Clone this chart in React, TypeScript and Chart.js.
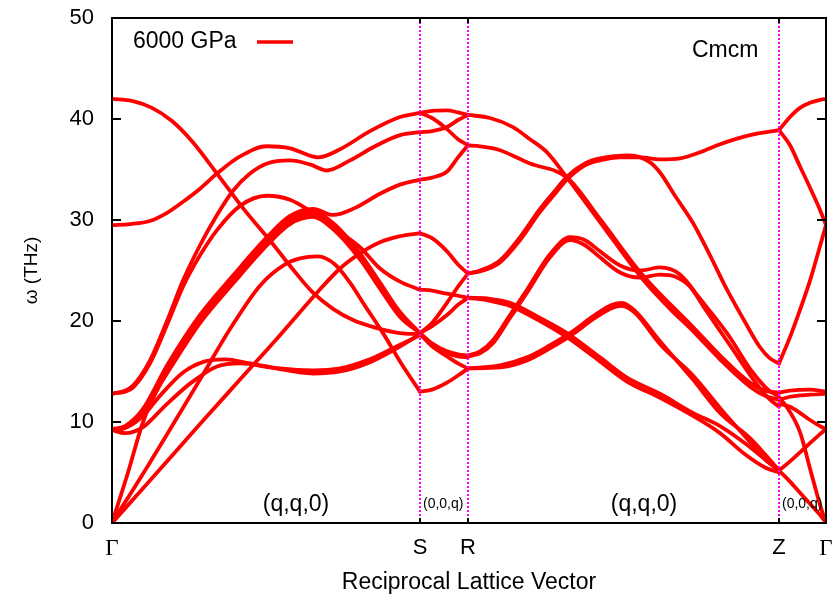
import React, { useEffect, useRef } from 'react';
import { Chart, registerables } from 'chart.js';

Chart.register(...registerables);

// ---- high-symmetry path (path coordinate k) ----
const kLabels = ['Γ', 'S', 'R', 'Z', 'Γ'];
const kPositions = [0, 3.08, 3.56, 6.67, 7.14];
const yMin = 0;
const yMax = 50;
const yStep = 10;
const seriesLabel = '6000 GPa';
const phaseLabel = 'Cmcm';
const xTitle = 'Reciprocal Lattice Vector';
const yTitle = 'ω (THz)';
const directionTexts = ['(q,q,0)', '(0,0,q)', '(q,q,0)', '(0,0,q)'];
const directionK = [1.84, 3.08, 5.32, 6.67];

// ---- phonon branches, [k, ω(THz)] per segment ----
const bandsGammaS: number[][][] = [
  [[0, 42.0], [0.2, 41.8], [0.4, 41.1], [0.6, 39.8], [0.8, 37.8], [1.05, 34.6], [1.3, 31.3], [1.61, 27.6], [1.81, 25.1], [2.01, 22.8], [2.21, 21.2], [2.41, 20.1], [2.65, 19.3], [2.88, 18.8], [3.08, 18.7]],
  [[0, 29.5], [0.18, 29.6], [0.38, 29.9], [0.55, 30.7], [0.71, 31.8], [0.88, 33.1], [1.05, 34.6], [1.28, 36.3], [1.55, 37.3], [1.78, 37.1], [2.06, 36.2], [2.28, 37.0], [2.58, 38.8], [2.88, 40.2], [3.08, 40.6]],
  [[0, 12.8], [0.13, 13.1], [0.21, 13.6], [0.38, 16.1], [0.55, 20.0], [0.71, 24.0], [0.88, 27.5], [1.05, 30.5], [1.21, 32.9], [1.38, 34.6], [1.55, 35.6], [1.78, 35.9], [1.98, 35.5], [2.15, 34.9], [2.38, 35.9], [2.63, 37.3], [2.88, 38.4], [3.08, 38.7]],
  [[0, 12.8], [0.13, 13.0], [0.21, 13.4], [0.38, 15.8], [0.55, 19.6], [0.71, 23.4], [0.88, 26.5], [1.05, 29.0], [1.28, 31.4], [1.55, 32.4], [1.78, 32.0], [2.01, 30.7], [2.28, 28.8], [2.48, 27.3], [2.68, 25.2], [2.88, 23.9], [3.08, 23.1]],
  [[0, 9.3], [0.13, 9.6], [0.31, 11.3], [0.55, 15.6], [0.88, 20.6], [1.21, 24.5], [1.55, 28.3], [1.78, 30.4], [2.01, 31.1], [2.21, 30.5], [2.43, 31.2], [2.68, 32.6], [2.88, 33.5], [3.08, 34.0]],
  [[0, 9.2], [0.13, 9.5], [0.31, 11.0], [0.55, 15.3], [0.88, 20.3], [1.21, 24.2], [1.55, 28.0], [1.78, 30.1], [2.01, 30.8], [2.21, 29.7], [2.48, 26.7], [2.68, 23.8], [2.88, 20.9], [3.08, 18.8]],
  [[0, 9.2], [0.13, 9.4], [0.31, 10.7], [0.55, 15.0], [0.88, 20.0], [1.21, 23.9], [1.55, 27.7], [1.78, 29.8], [2.01, 30.5], [2.21, 29.4], [2.48, 26.4], [2.68, 23.5], [2.88, 20.6], [3.08, 18.8]],
  [[0, 0], [0.16, 5.0], [0.31, 10.0], [0.43, 12.8], [0.55, 14.8], [0.88, 19.8], [1.21, 23.7], [1.55, 27.5], [1.78, 29.6], [2.01, 30.3], [2.21, 29.1], [2.48, 26.1], [2.68, 23.2], [2.88, 20.4], [3.08, 18.8]],
  [[0, 0], [0.38, 6.0], [0.88, 14.2], [1.18, 19.2], [1.48, 23.5], [1.73, 25.6], [1.88, 26.2], [2.06, 26.4], [2.23, 25.6], [2.38, 23.8], [2.53, 21.5], [2.71, 18.8], [2.88, 16.0], [3.08, 13.0]],
  [[0, 0], [0.38, 4.2], [0.88, 9.8], [1.28, 14.2], [1.68, 18.6], [2.05, 22.8], [2.28, 25.2], [2.48, 26.7], [2.68, 27.8], [2.88, 28.4], [3.08, 28.7]],
  [[0, 9.2], [0.13, 9.4], [0.31, 10.6], [0.48, 12.6], [0.71, 14.9], [0.93, 16.0], [1.13, 16.2], [1.38, 15.8], [1.68, 15.3], [2.01, 15.1], [2.28, 15.3], [2.55, 16.1], [2.83, 17.4], [3.08, 18.6]],
  [[0, 9.2], [0.13, 8.9], [0.31, 9.5], [0.53, 11.6], [0.78, 13.8], [1.05, 15.5], [1.28, 15.8], [1.58, 15.4], [2.01, 14.8], [2.28, 15.0], [2.55, 15.8], [2.83, 17.2], [3.08, 18.7]],
];

const bandsSR: number[][][] = [
  [[3.08, 40.6], [3.2, 40.8], [3.35, 40.85], [3.46, 40.65], [3.56, 40.4]],
  [[3.08, 40.6], [3.2, 40.1], [3.35, 39.0], [3.46, 38.0], [3.56, 37.4]],
  [[3.08, 38.7], [3.2, 38.8], [3.35, 39.2], [3.46, 39.9], [3.56, 40.4]],
  [[3.08, 34.0], [3.2, 34.2], [3.35, 34.8], [3.46, 36.2], [3.56, 37.4]],
  [[3.08, 28.7], [3.2, 28.2], [3.35, 26.9], [3.46, 25.6], [3.56, 24.7]],
  [[3.08, 23.1], [3.2, 23.0], [3.35, 22.7], [3.46, 22.5], [3.56, 22.3]],
  [[3.08, 18.8], [3.2, 19.8], [3.35, 21.8], [3.46, 23.4], [3.56, 24.7]],
  [[3.08, 18.8], [3.2, 19.5], [3.35, 20.6], [3.46, 21.6], [3.56, 22.3]],
  [[3.08, 18.8], [3.2, 17.8], [3.35, 17.0], [3.46, 16.7], [3.56, 16.6]],
  [[3.08, 18.8], [3.2, 17.6], [3.35, 16.8], [3.46, 16.5], [3.56, 16.4]],
  [[3.08, 13.0], [3.2, 13.2], [3.35, 13.9], [3.46, 14.6], [3.56, 15.3]],
  [[3.08, 18.7], [3.2, 17.5], [3.35, 16.5], [3.46, 15.8], [3.56, 15.3]],
];

const bandsRZ: number[][][] = [
  [[3.56, 40.4], [3.78, 40.1], [4.01, 39.2], [4.18, 38.0], [4.35, 36.7], [4.55, 34.2], [4.88, 29.8], [5.31, 24.1], [5.58, 21.2], [5.81, 19.0], [6.08, 16.2], [6.38, 13.5], [6.53, 12.6], [6.67, 12.2]],
  [[3.56, 37.4], [3.68, 37.3], [3.85, 37.0], [4.18, 35.6], [4.55, 34.2], [4.88, 30.1], [5.31, 24.5], [5.81, 19.4], [6.08, 16.6], [6.38, 13.9], [6.53, 13.1], [6.67, 12.9]],
  [[3.56, 24.7], [3.68, 24.9], [3.88, 25.8], [4.08, 28.0], [4.28, 30.8], [4.43, 32.6], [4.55, 34.0], [4.73, 35.4], [4.88, 35.9], [5.08, 36.2], [5.28, 36.2], [5.48, 36.0], [5.68, 36.1], [5.88, 36.7], [6.08, 37.5], [6.38, 38.4], [6.67, 38.9]],
  [[3.56, 24.7], [3.68, 25.0], [3.88, 26.0], [4.08, 28.3], [4.28, 31.1], [4.43, 32.9], [4.55, 34.3], [4.73, 35.6], [4.88, 36.1], [5.18, 36.4], [5.38, 35.7], [5.48, 34.7], [5.63, 32.4], [5.81, 29.7], [5.98, 26.5], [6.15, 23.1], [6.33, 19.9], [6.48, 17.4], [6.58, 16.3], [6.67, 15.8]],
  [[3.56, 22.3], [3.78, 22.2], [3.98, 21.8], [4.28, 20.3], [4.55, 18.8], [4.88, 16.4], [5.15, 14.4], [5.48, 12.8], [5.81, 10.9], [6.08, 9.6], [6.33, 7.9], [6.53, 6.3], [6.67, 5.2]],
  [[3.56, 22.3], [3.78, 22.0], [3.98, 21.5], [4.28, 20.0], [4.55, 18.4], [4.88, 16.0], [5.15, 14.0], [5.48, 12.4], [5.81, 10.6], [6.08, 8.9], [6.33, 6.8], [6.53, 5.5], [6.67, 5.0]],
  [[3.56, 16.6], [3.68, 17.0], [3.81, 18.1], [3.98, 20.6], [4.15, 23.1], [4.38, 26.6], [4.58, 28.3], [4.73, 28.0], [4.88, 26.9], [5.08, 25.5], [5.28, 25.0], [5.48, 25.3], [5.68, 24.6], [5.88, 22.2], [6.15, 18.8], [6.40, 15.0], [6.56, 13.2], [6.67, 12.5]],
  [[3.56, 16.5], [3.68, 16.8], [3.81, 17.8], [3.98, 20.3], [4.15, 22.8], [4.38, 26.3], [4.58, 28.0], [4.73, 27.5], [4.88, 26.3], [5.08, 24.8], [5.28, 24.3], [5.48, 24.6], [5.63, 24.4], [5.78, 23.4], [5.93, 21.2], [6.18, 17.6], [6.40, 14.4], [6.56, 12.4], [6.67, 11.5]],
  [[3.56, 15.3], [3.88, 15.6], [4.15, 16.4], [4.38, 17.6], [4.58, 18.8], [4.83, 20.6], [5.0, 21.6], [5.1, 21.8], [5.23, 21.0], [5.48, 18.0], [5.81, 14.2], [6.08, 10.9], [6.38, 8.4], [6.53, 6.8], [6.67, 5.2]],
  [[3.56, 15.3], [3.88, 15.4], [4.15, 16.1], [4.38, 17.3], [4.58, 18.5], [4.83, 20.3], [5.0, 21.3], [5.1, 21.5], [5.23, 20.8], [5.48, 17.7], [5.81, 14.6], [6.08, 11.4], [6.38, 8.0], [6.53, 6.3], [6.67, 5.2]],
];

const bandsZGamma: number[][][] = [
  [[6.67, 38.9], [6.78, 40.2], [6.88, 41.1], [6.98, 41.6], [7.08, 41.9], [7.14, 42.0]],
  [[6.67, 38.9], [6.78, 37.4], [6.88, 35.3], [6.98, 33.2], [7.08, 31.0], [7.14, 29.5]],
  [[6.67, 15.8], [6.78, 18.4], [6.88, 21.1], [6.98, 24.0], [7.08, 27.4], [7.14, 29.5]],
  [[6.67, 12.9], [6.78, 13.1], [6.98, 13.2], [7.14, 13.0]],
  [[6.67, 12.2], [6.78, 12.5], [6.98, 12.7], [7.14, 12.8]],
  [[6.67, 11.8], [6.78, 11.5], [6.88, 10.9], [6.98, 10.2], [7.08, 9.6], [7.14, 9.3]],
  [[6.67, 12.4], [6.74, 11.6], [6.88, 9.0], [6.98, 5.4], [7.08, 1.8], [7.14, 0]],
  [[6.67, 5.2], [6.78, 6.1], [6.88, 7.0], [6.98, 7.9], [7.08, 8.8], [7.14, 9.3]],
  [[6.67, 5.2], [6.78, 4.1], [6.88, 3.0], [6.98, 1.9], [7.08, 0.8], [7.14, 0]],
];

const RED = '#ff0000';
const SANS = '"Liberation Sans", Arial, sans-serif';
const SERIF = '"Liberation Serif", "Times New Roman", serif';

const decorPlugin = {
  id: 'decor',
  afterDatasetsDraw(chart: any) {
    const { ctx, chartArea: a, scales } = chart;
    const xs = scales.x;
    const ys = scales.y;
    ctx.save();
    // symmetry-point guide lines
    ctx.strokeStyle = '#ff00ff';
    ctx.lineWidth = 2;
    ctx.setLineDash([2, 2]);
    kPositions.slice(1, -1).forEach((k) => {
      const px = Math.round(xs.getPixelForValue(k));
      ctx.beginPath();
      ctx.moveTo(px, a.top);
      ctx.lineTo(px, a.bottom);
      ctx.stroke();
    });
    ctx.setLineDash([]);
    // frame
    ctx.strokeStyle = '#000';
    ctx.lineWidth = 2;
    ctx.strokeRect(a.left, a.top, a.right - a.left, a.bottom - a.top);
    // inward ticks
    ctx.beginPath();
    ys.ticks.forEach((t: any) => {
      const py = Math.round(ys.getPixelForValue(t.value));
      ctx.moveTo(a.left, py);
      ctx.lineTo(a.left + 9, py);
      ctx.moveTo(a.right, py);
      ctx.lineTo(a.right - 9, py);
    });
    kPositions.slice(1, -1).forEach((k) => {
      const px = Math.round(xs.getPixelForValue(k));
      ctx.moveTo(px, a.bottom);
      ctx.lineTo(px, a.bottom - 5);
      ctx.moveTo(px, a.top);
      ctx.lineTo(px, a.top + 5);
    });
    ctx.stroke();
    // direction notes
    ctx.fillStyle = '#000';
    ctx.textBaseline = 'middle';
    directionTexts.forEach((txt, i) => {
      const px = xs.getPixelForValue(directionK[i]);
      const small = txt === '(0,0,q)';
      ctx.font = `${small ? 14 : 23}px ${SANS}`;
      ctx.textAlign = small ? 'left' : 'center';
      ctx.fillText(txt, small ? px + 3 : px, a.bottom - (small ? 19 : 18));
    });
    // legend
    ctx.font = `23px ${SANS}`;
    ctx.textAlign = 'left';
    ctx.fillText(seriesLabel, a.left + 21, a.top + 24);
    ctx.strokeStyle = RED;
    ctx.lineWidth = 3.5;
    ctx.beginPath();
    ctx.moveTo(a.left + 145, a.top + 24);
    ctx.lineTo(a.left + 181, a.top + 24);
    ctx.stroke();
    ctx.fillText(phaseLabel, a.left + 580, a.top + 33);
    ctx.restore();
  },
};

export default function App() {
  const ref = useRef<HTMLCanvasElement>(null);
  useEffect(() => {
    document.body.style.margin = '0';
    const canvas = ref.current;
    if (!canvas) return;
    const all = [...bandsGammaS, ...bandsSR, ...bandsRZ, ...bandsZGamma];
    const datasets = all.map((band, i) => ({
      label: i === 0 ? seriesLabel : '',
      data: band.map(([x, y]) => ({ x, y })),
      borderColor: RED,
      backgroundColor: RED,
      borderWidth: 3.8,
      pointRadius: 0,
      pointHoverRadius: 0,
      fill: false,
      cubicInterpolationMode: 'monotone' as const,
      borderCapStyle: 'round' as const,
      borderJoinStyle: 'round' as const,
    }));
    const chart = new Chart(canvas, {
      type: 'line',
      data: { datasets },
      options: {
        animation: false,
        responsive: false,
        events: [],
        layout: { padding: { top: 18, right: 10, left: 0, bottom: 0 } },
        plugins: { legend: { display: false }, tooltip: { enabled: false } },
        scales: {
          x: {
            type: 'linear',
            min: kPositions[0],
            max: kPositions[kPositions.length - 1],
            grid: { display: false, drawTicks: false },
            border: { display: false },
            afterBuildTicks: (scale: any) => {
              scale.ticks = kPositions.map((v) => ({ value: v }));
            },
            afterFit: (scale: any) => {
              scale.height = 81;
              scale.paddingLeft = 0;
              scale.paddingRight = 0;
            },
            ticks: {
              autoSkip: false,
              maxRotation: 0,
              padding: 12,
              color: '#000',
              callback: (_v: any, i: number) => kLabels[i],
              font: (c: any) =>
                c.tick && c.tick.label === 'Γ'
                  ? { family: SERIF, size: 23 }
                  : { family: SANS, size: 22 },
            },
            title: {
              display: true,
              text: xTitle,
              color: '#000',
              font: { family: SANS, size: 23 },
              padding: { top: 0, bottom: 8 },
            },
          },
          y: {
            type: 'linear',
            min: yMin,
            max: yMax,
            grid: { display: false, drawTicks: false },
            border: { display: false },
            afterFit: (scale: any) => {
              scale.width = 112;
              scale.paddingTop = 0;
              scale.paddingBottom = 0;
            },
            ticks: {
              stepSize: yStep,
              padding: 18,
              color: '#000',
              font: { family: SANS, size: 22 },
            },
            title: {
              display: true,
              text: yTitle,
              color: '#000',
              font: { family: SANS, size: 19 },
              padding: { top: 20, bottom: 0 },
            },
          },
        },
      },
      plugins: [decorPlugin],
    });
    return () => chart.destroy();
  }, []);
  return (
    <div style={{ width: 836, height: 604 }}>
      <canvas ref={ref} width={836} height={604} style={{ display: 'block' }} />
    </div>
  );
}
